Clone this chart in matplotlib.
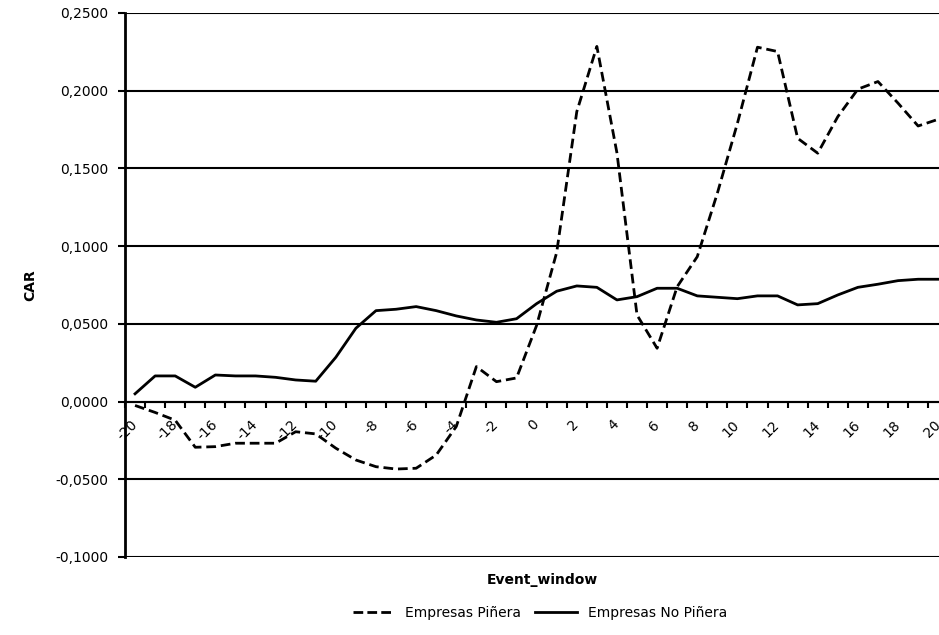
import matplotlib
matplotlib.use("Agg")
import matplotlib.pyplot as plt
import numpy as np
from matplotlib.ticker import FuncFormatter, MultipleLocator
from matplotlib.lines import Line2D

plt.rcParams['font.family'] = 'DejaVu Sans'
plt.rcParams['lines.scale_dashes'] = False

event_window = list(range(-20, 21))

# CAR, Empresas Piñera (dashed)
car_pinera = [-0.0025, -0.0070, -0.0120, -0.0294, -0.0290, -0.0268, -0.0268,
              -0.0268, -0.0194, -0.0208, -0.0300, -0.0376, -0.0419, -0.0434,
              -0.0429, -0.0344, -0.0160, 0.0225, 0.0128, 0.0152, 0.0490,
              0.0960, 0.1865, 0.2285, 0.1600, 0.0557, 0.0343, 0.0739,
              0.0932, 0.1340, 0.1790, 0.2280, 0.2252, 0.1694, 0.1598,
              0.1833, 0.2010, 0.2059, 0.1920, 0.1773, 0.1816]

# CAR, Empresas No Piñera (solid)
car_no_pinera = [0.0050, 0.0165, 0.0165, 0.0092, 0.0171, 0.0165, 0.0165,
                 0.0156, 0.0139, 0.0131, 0.0285, 0.0472, 0.0585, 0.0594,
                 0.0611, 0.0585, 0.0551, 0.0525, 0.0510, 0.0533, 0.0630,
                 0.0710, 0.0744, 0.0735, 0.0654, 0.0675, 0.0729, 0.0729,
                 0.0680, 0.0671, 0.0662, 0.0680, 0.0680, 0.0622, 0.0630,
                 0.0686, 0.0735, 0.0755, 0.0778, 0.0787, 0.0787]

y_ticks = [-0.10, -0.05, 0.0, 0.05, 0.10, 0.15, 0.20, 0.25]
x_labels = list(range(-20, 21, 2))

fig = plt.figure(figsize=(9.39, 6.35), dpi=100)
ax = fig.add_axes([125 / 939, 1 - 557 / 635, 1 - 125 / 939, (557 - 13) / 635])

for yv in y_ticks:
    ax.axhline(yv, color='black', lw=1.5, zorder=1)

ax.plot(event_window, car_pinera, color='black', lw=2.0, dashes=(7, 3.5),
        zorder=3, label='Empresas Piñera')
ax.plot(event_window, car_no_pinera, color='black', lw=2.0,
        zorder=3, label='Empresas No Piñera')

ax.set_xlim(-20.5, 20.04)
ax.set_ylim(-0.1, 0.25)

for s in ['top', 'right']:
    ax.spines[s].set_visible(False)
ax.spines['left'].set_linewidth(2.0)
ax.spines['bottom'].set_position(('data', 0))
ax.spines['bottom'].set_linewidth(1.5)
ax.spines['bottom'].set_zorder(2)

ax.set_yticks(y_ticks)
ax.yaxis.set_major_formatter(FuncFormatter(lambda v, p: ('%.4f' % v).replace('.', ',')))
ax.tick_params(axis='y', direction='out', length=5, width=1.5, pad=7, labelsize=10)

ax.set_xticks(x_labels)
ax.set_xticklabels([str(v) for v in x_labels], rotation=45, ha='right',
                   va='center', rotation_mode='anchor')
ax.xaxis.set_minor_locator(MultipleLocator(1, offset=0.5))
ax.tick_params(axis='x', which='major', length=0, pad=15, labelsize=10)
ax.tick_params(axis='x', which='minor', direction='out', length=4, width=1.5)

fig.text(30 / 939, 1 - 285 / 635, 'CAR', rotation=90, ha='center', va='center',
         fontsize=10, fontweight='bold')
fig.text(542 / 939, 1 - 580 / 635, 'Event_window', ha='center', va='center',
         fontsize=10, fontweight='bold')

handles = [Line2D([], [], color='black', lw=2.0, dashes=(7, 3)),
           Line2D([], [], color='black', lw=2.0)]
fig.legend(handles, ['Empresas Piñera', 'Empresas No Piñera'], ncol=2,
           loc='center', bbox_to_anchor=(540 / 939, 1 - 613 / 635),
           frameon=False, fontsize=10, handlelength=3.0, handletextpad=0.8,
           columnspacing=1.0)

fig.savefig('out.png', dpi=100)
